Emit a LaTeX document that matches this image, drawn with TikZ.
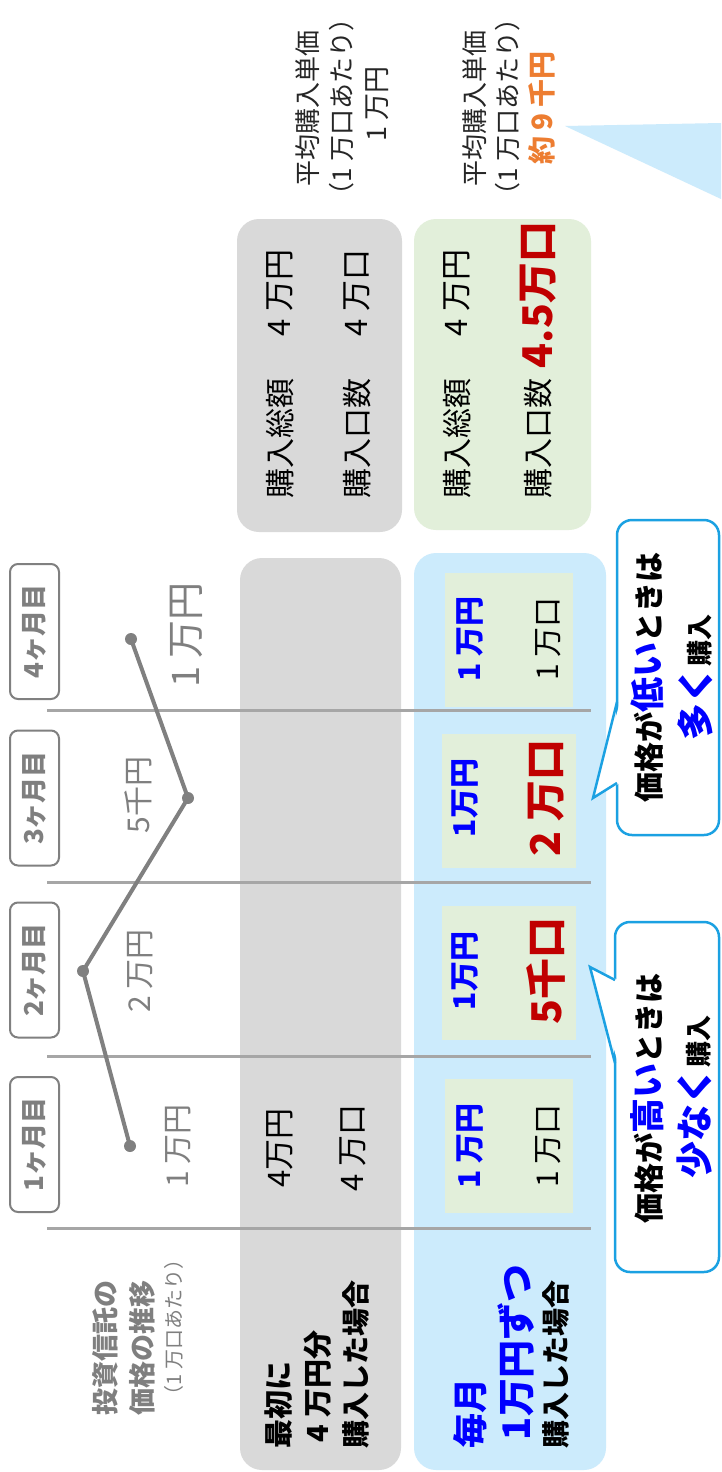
\documentclass[tikz,border=0pt]{standalone}
\usepackage{fontspec}
\setmainfont{Noto Sans CJK JP}
\definecolor{greybg}{HTML}{D9D9D9}
\definecolor{bluebg}{HTML}{CCEBFC}
\definecolor{greenbg}{HTML}{E2EFDA}
\definecolor{sepgrey}{HTML}{A6A6A6}
\definecolor{chartgrey}{HTML}{808080}
\definecolor{txtgrey}{HTML}{7F7F7F}
\definecolor{bubblec}{HTML}{1BA1E2}
\definecolor{myblue}{HTML}{0000FF}
\definecolor{myred}{HTML}{C00000}
\definecolor{myorange}{HTML}{ED7D31}
\newcommand\fsz[1]{\fontsize{#1pt}{#1pt}\selectfont}
\begin{document}
\begin{tikzpicture}[x=1pt,y=-1pt,
  every node/.style={inner sep=0pt, outer sep=0pt},
  txt/.style={rotate=90},
  lbl/.style={rotate=90, anchor=west},
  monthbox/.style={rotate=90, draw=chartgrey, line width=2pt, rounded corners=8pt,
     minimum width=135pt, minimum height=49pt, text=txtgrey, font=\fsz{26}\bfseries},
  cell/.style={fill=greenbg, minimum width=134pt, minimum height=#1, rotate=90},
  sepline/.style={draw=sepgrey, line width=3pt},
  chart/.style={draw=chartgrey, line width=4pt, line join=round},
  bubble/.style={rotate=90, draw=bubblec, line width=2.5pt, fill=white, rounded corners=15pt},
  pointer/.style={draw=bubblec, line width=2.5pt, line join=miter},
]
\useasboundingbox (0,0) rectangle (721,1472);
\fill[white] (0,0) rectangle (721,1472);

% ---------- big row areas ----------
\node[fill=greybg, rounded corners=22pt, minimum width=161pt, minimum height=912pt] (rowA) at (320.5,1014) {};
\node[fill=bluebg, rounded corners=22pt, minimum width=192pt, minimum height=917pt] (rowB) at (510,1011.5) {};

% ---------- summary boxes ----------
\node[fill=greybg, rounded corners=22pt, minimum width=165pt, minimum height=313pt] (sumA) at (319.5,375.5) {};
\node[fill=greenbg, rounded corners=22pt, minimum width=177pt, minimum height=311pt] (sumB) at (502.5,374.5) {};

% ---------- triangle ----------
\coordinate (triA) at (565,126);
\coordinate (triB) at (721,123);
\coordinate (triC) at (721,199);
\fill[bluebg] (triA) -- (triB) -- (triC) -- cycle;

% ---------- separator lines ----------
\draw[sepline] (47,1228) -- (591,1228);
\draw[sepline] (47,1056) -- (591,1056);
\draw[sepline] (47,882) -- (591,882);
\draw[sepline] (47,710) -- (591,710);

% ---------- cells ----------
\node[cell=128pt] (c1) at (509,1145.5) {};
\node[cell=134pt] (c2) at (509,973) {};
\node[cell=134pt] (c3) at (509,800.5) {};
\node[cell=128pt] (c4) at (509,640) {};

% ---------- month boxes ----------
\node[monthbox] (m1) at (34.5,1144.5) {1ヶ月目};
\node[monthbox] (m2) at (34.5,970) {2ヶ月目};
\node[monthbox] (m3) at (34.5,798) {3ヶ月目};
\node[monthbox] (m4) at (34.5,631.5) {4ヶ月目};

% ---------- chart ----------
\coordinate (p1) at (130,1146);
\coordinate (p2) at (83,971);
\coordinate (p3) at (188,798);
\coordinate (p4) at (131,639);
\draw[chart] (p1) -- (p2) -- (p3) -- (p4);
\foreach \p in {p1,p2,p3,p4} \fill[chartgrey] (\p) circle (6pt);

\node[txt, text=txtgrey, font=\fsz{30}] (v1) at (178,1146) {1 万円};
\node[txt, text=txtgrey, font=\fsz{30}] (v2) at (140,971) {2 万円};
\node[txt, text=txtgrey, font=\fsz{30}] (v3) at (138,795) {5千円};
\node[txt, text=txtgrey, font=\fsz{38}] (v4) at (186,635) {1 万円};

% ---------- title ----------
\node[lbl, text=txtgrey, font=\fsz{27}\bfseries] (t1) at (105,1415) {投資信託の};
\node[lbl, text=txtgrey, font=\fsz{27}\bfseries] (t2) at (142,1415) {価格の推移};
\node[lbl, text=txtgrey, font=\fsz{20}] (t3) at (174,1405) {（1 万口あたり）};

% ---------- row A texts ----------
\node[lbl, font=\fsz{29}\bfseries] (a1) at (279,1448) {最初に};
\node[lbl, font=\fsz{29}\bfseries] (a2) at (318,1442) {4 万円分};
\node[lbl, font=\fsz{28}\bfseries] (a3) at (356,1448) {購入した場合};
\node[txt, font=\fsz{31}] (a4) at (280,1148) {4万円};
\node[txt, font=\fsz{31}] (a5) at (353,1148) {4 万口};

% ---------- row B texts ----------
\node[lbl, text=myblue, font=\fsz{35}\bfseries] (b1) at (470,1448) {毎月};
\node[lbl, text=myblue, font=\fsz{38}\bfseries] (b2) at (516,1440) {1万円ずつ};
\node[lbl, font=\fsz{28}\bfseries] (b3) at (556,1448) {購入した場合};

% ---------- cell texts ----------
\node[txt, text=myblue, font=\fsz{30}\bfseries] (c1a) at (470,1146) {1 万円};
\node[txt, font=\fsz{30}] (c1b) at (548,1146) {1 万口};
\node[txt, text=myblue, font=\fsz{30}\bfseries] (c2a) at (465,971) {1万円};
\node[txt, text=myred, font=\fsz{41}\bfseries] (c2b) at (546,971) {5千口};
\node[txt, text=myblue, font=\fsz{30}\bfseries] (c3a) at (465,798) {1万円};
\node[txt, text=myred, font=\fsz{41}\bfseries] (c3b) at (546,798) {2 万口};
\node[txt, text=myblue, font=\fsz{30}\bfseries] (c4a) at (470,639) {1 万円};
\node[txt, font=\fsz{30}] (c4b) at (548,639) {1 万口};

% ---------- summary texts ----------
\node[txt, font=\fsz{30}] (s1) at (280,438) {購入総額};
\node[txt, font=\fsz{31}] (s2) at (280,293) {4 万円};
\node[txt, font=\fsz{30}] (s3) at (357,438) {購入口数};
\node[txt, font=\fsz{31}] (s4) at (357,293) {4 万口};
\node[txt, font=\fsz{30}] (s5) at (457,438) {購入総額};
\node[txt, font=\fsz{31}] (s6) at (457,293) {4 万円};
\node[txt, font=\fsz{30}] (s7) at (538,438) {購入口数};
\node[txt, text=myred, font=\fsz{41}\bfseries] (s8) at (538,295) {4.5万口};

% ---------- average price texts ----------
\node[txt, text=black!85, font=\fsz{26}] (u1) at (308,108) {平均購入単価};
\node[txt, text=black!85, font=\fsz{26}] (u2) at (342,107) {（1 万口あたり）};
\node[txt, text=black!85, font=\fsz{27}] (u3) at (377,104) {1 万円};
\node[txt, text=black!85, font=\fsz{26}] (w1) at (475,108) {平均購入単価};
\node[txt, text=black!85, font=\fsz{26}] (w2) at (508,107) {（1 万口あたり）};
\node[txt, text=myorange, font=\fsz{28}\bfseries] (w3) at (542,108) {約 9 千円};

% ---------- bubbles ----------
\node[bubble, minimum width=350pt, minimum height=104pt] (bb1) at (667,1097) {};
\coordinate (tip1) at (590,967);
\coordinate (b1u) at (615,980);
\coordinate (b1d) at (615,1063);
\fill[white] (tip1) -- ([xshift=3pt]b1u) -- ([xshift=3pt]b1d) -- cycle;
\draw[pointer] (b1u) -- (tip1) -- (b1d);
\node[txt, font=\fsz{30}\bfseries] (q1) at (647,1098) {価格が{\color{myblue}\fsz{35}高い}ときは};
\node[txt, font=\fsz{26}\bfseries] (q2) at (695,1097) {{\color{myblue}\fsz{37}少なく}購入};

\node[bubble, minimum width=315pt, minimum height=102pt] (bb2) at (668,677.5) {};
\coordinate (tip2) at (593,798);
\coordinate (b2u) at (617,783);
\coordinate (b2d) at (617,702);
\fill[white] (tip2) -- ([xshift=3pt]b2u) -- ([xshift=3pt]b2d) -- cycle;
\draw[pointer] (b2u) -- (tip2) -- (b2d);
\node[txt, font=\fsz{30}\bfseries] (q3) at (647,677) {価格が{\color{myblue}\fsz{35}低い}ときは};
\node[txt, font=\fsz{26}\bfseries] (q4) at (695,677) {{\color{myblue}\fsz{37}多く}購入};
\end{tikzpicture}
\end{document}
